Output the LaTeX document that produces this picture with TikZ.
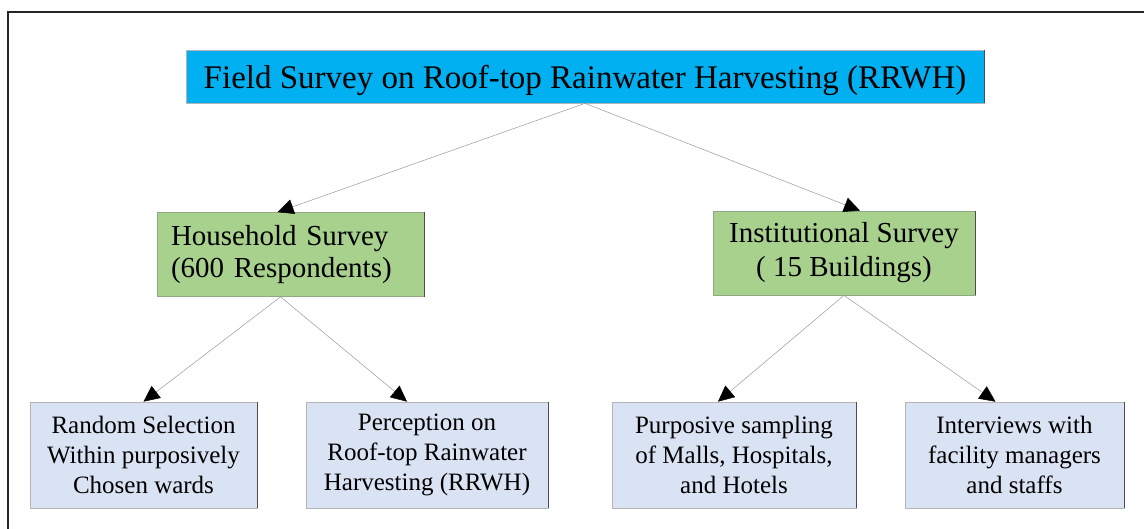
\documentclass[tikz,border=0pt]{standalone}
\usepackage{fontspec}
\setmainfont{Liberation Serif}
\usetikzlibrary{arrows.meta}
\definecolor{topcyan}{HTML}{00B0F0}
\definecolor{boxgreen}{HTML}{A9D18E}
\definecolor{boxblue}{HTML}{DAE3F3}
\definecolor{edgegray}{HTML}{B4B4B4}
\definecolor{greenedge}{HTML}{8FA882}

\begin{document}
\begin{tikzpicture}[x=1pt,y=-1pt,
  box/.style={rectangle, inner sep=0pt, draw=edgegray, line width=0.7pt, anchor=center},
  topbox/.style={box, fill=topcyan, minimum width=798pt, text height=39pt, text depth=14pt,
    font=\fontsize{33}{38}\selectfont},
  midbox/.style={box, fill=boxgreen, draw=greenedge, minimum height=84pt},
  leafbox/.style={box, fill=boxblue, minimum height=106pt, align=center,
    font=\fontsize{25}{30}\selectfont},
  link/.style={draw=gray!80, line width=0.5pt, -{Triangle[length=16pt,width=15pt,black]}},
  rim/.style={draw=black!70, line width=0.9pt}
]
\useasboundingbox (0,0) rectangle (1144,529);

% outer frame, running off the right and bottom edges
\begin{scope}
  \clip (0,0) rectangle (1144,529);
  \draw[black!85, line width=1.3pt] (8,12) rectangle (1170,560);
\end{scope}

% boxes
\node[topbox] (top) at (585,76.5) {Field Survey on Roof-top Rainwater Harvesting (RRWH)};

\node[midbox, text width=239pt, inner xsep=14pt, align=left,
      font=\fontsize{29}{31.5}\selectfont] (hh) at (290.5,254.5)
  {Household Survey\\(600 Respondents)};
\node[midbox, minimum width=262pt, align=center,
      font=\fontsize{29}{34}\selectfont] (inst) at (844,253)
  {Institutional Survey\\( 15 Buildings)};

\node[leafbox, minimum width=227pt] (rand) at (143.5,455)
  {Random Selection\\Within purposively\\Chosen wards};
\node[leafbox, minimum width=242pt] (perc) at (427,455)
  {Perception on\\Roof-top Rainwater\\Harvesting (RRWH)};
\node[leafbox, minimum width=244pt] (purp) at (734,455)
  {Purposive sampling\\of Malls, Hospitals,\\and Hotels};
\node[leafbox, minimum width=219pt] (intv) at (1014.5,455)
  {Interviews with\\facility managers\\and staffs};

% darker right-hand rims of the boxes
\foreach \n in {top,hh,inst,rand,perc,purp,intv}
  \draw[rim] (\n.north east) -- (\n.south east);

% connectors
\draw[link] (top.south) -- ([xshift=-13pt]hh.north);
\draw[link] (top.south) -- ([xshift=16pt]inst.north);
\draw[link] ([xshift=-10pt]hh.south) -- (rand.north);
\draw[link] ([xshift=-10pt]hh.south) -- ([xshift=-20pt]perc.north);
\draw[link] (inst.south) -- ([xshift=-16pt]purp.north);
\draw[link] (inst.south) -- ([xshift=-19pt]intv.north);
\end{tikzpicture}
\end{document}
